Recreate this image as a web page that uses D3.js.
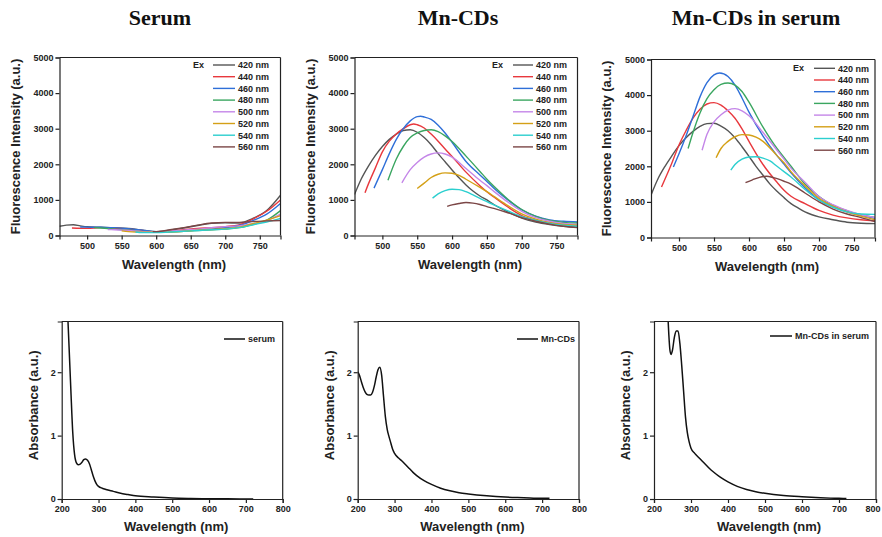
<!DOCTYPE html>
<html>
<head>
<meta charset="utf-8">
<script src="https://cdn.jsdelivr.net/npm/d3@7"></script>
<style>
  body { margin: 0; background: #fff; }
  svg { display: block; }
  .tick text { font-family: Arial, "Liberation Sans", sans-serif; font-weight: bold; font-size: 9px; fill: #222; }
  .axis path, .axis line { stroke: #222; stroke-width: 1.2px; }
  .title { font-family: "Times New Roman", "Liberation Serif", serif; font-weight: bold; font-size: 22px; fill: #111; }
  .axtitle { font-family: Arial, "Liberation Sans", sans-serif; font-weight: bold; font-size: 13px; fill: #222; }
  .leg { font-family: Arial, "Liberation Sans", sans-serif; font-weight: bold; font-size: 9px; fill: #222; }
</style>
</head>
<body>
<div class="chart"></div>
<script>
// excitation wavelengths (legend)
var exLabels = ["420 nm", "440 nm", "460 nm", "480 nm", "500 nm", "520 nm", "540 nm", "560 nm"];
var exColors = ["#555555", "#e8383d", "#2f6fd8", "#3aa660", "#c486e8", "#d4a017", "#2ccfcf", "#7b4646"];

var panelTitles = ["Serum", "Mn-CDs", "Mn-CDs in serum"];
var absLegend = ["serum", "Mn-CDs", "Mn-CDs in serum"];

var flTicksX = [500, 550, 600, 650, 700, 750];
var flTicksY = [0, 1000, 2000, 3000, 4000, 5000];
var absTicksX = [200, 300, 400, 500, 600, 700, 800];
var absTicksY = [0, 1, 2];

// emission spectra, [wavelength nm, intensity a.u.] per excitation
var serumFl = [
  [[460,260],[470,290],[480,300],[490,270],[500,245],[520,230],[540,215],[560,195],[580,150],[600,110],[620,150],[640,210],[660,280],[680,340],[700,355],[720,350],[740,480],[760,700],[780,1130]],
  [[478,210],[500,200],[520,220],[540,210],[560,180],[580,140],[600,100],[620,120],[640,160],[660,200],[680,220],[700,250],[720,300],[740,460],[760,680],[780,1000]],
  [[490,240],[500,235],[520,230],[540,220],[560,190],[580,150],[600,110],[620,110],[640,130],[660,150],[680,180],[700,220],[720,280],[740,420],[760,600],[780,900]],
  [[510,220],[520,210],[540,180],[560,150],[580,110],[600,90],[620,100],[640,120],[660,140],[680,160],[700,180],[720,220],[740,310],[760,430],[780,700]],
  [[530,170],[540,160],[560,140],[580,110],[600,100],[620,120],[640,150],[660,180],[680,220],[700,250],[720,270],[740,330],[760,420],[780,600]],
  [[550,130],[560,110],[580,90],[600,90],[620,100],[640,120],[660,150],[680,170],[700,190],[720,230],[740,330],[760,430],[780,560]],
  [[570,100],[580,80],[600,80],[620,100],[640,120],[660,140],[680,160],[700,180],[720,220],[740,300],[760,380],[780,480]],
  [[595,110],[600,110],[620,160],[640,220],[660,290],[680,350],[700,370],[720,370],[740,390],[760,410],[780,420]]
];

var mnCDsFl = [
  [[460,1150],[470,1600],[480,1950],[490,2250],[500,2500],[510,2700],[520,2850],[530,2950],[540,2970],[550,2900],[560,2750],[570,2550],[580,2300],[590,2070],[600,1840],[610,1620],[620,1420],[630,1250],[640,1110],[650,1000],[660,870],[670,760],[680,660],[690,570],[700,490],[720,380],[740,310],[760,260],[780,230]],
  [[475,1200],[480,1450],[490,1900],[500,2350],[510,2650],[520,2850],[530,3000],[540,3110],[545,3130],[550,3110],[560,3020],[570,2850],[580,2650],[590,2430],[600,2220],[620,1780],[640,1400],[650,1230],[660,1080],[680,800],[700,560],[720,430],[740,360],[760,320],[780,290]],
  [[488,1330],[500,1850],[510,2300],[520,2700],[530,3000],[540,3220],[550,3340],[555,3350],[560,3330],[570,3260],[580,3100],[590,2880],[600,2620],[620,2080],[640,1700],[650,1520],[660,1330],[680,1000],[700,720],[720,540],[740,440],[760,400],[780,380]],
  [[508,1550],[520,2150],[530,2500],[540,2750],[550,2880],[560,2950],[570,2970],[580,2920],[590,2800],[600,2640],[620,2230],[640,1800],[650,1580],[660,1380],[680,1020],[700,730],[720,540],[740,420],[760,370],[780,350]],
  [[528,1480],[540,1850],[550,2050],[560,2200],[570,2290],[580,2320],[590,2290],[600,2200],[620,1880],[640,1550],[650,1400],[660,1240],[680,940],[700,680],[720,500],[740,400],[760,340],[780,310]],
  [[550,1320],[560,1470],[570,1630],[580,1720],[590,1760],[600,1750],[610,1690],[620,1580],[640,1350],[650,1230],[660,1100],[680,840],[700,610],[720,460],[740,360],[760,310],[780,290]],
  [[572,1050],[580,1170],[590,1260],[600,1300],[610,1290],[620,1230],[630,1140],[640,1040],[650,950],[660,860],[680,690],[700,530],[720,420],[740,340],[760,290],[780,260]],
  [[593,820],[600,860],[610,900],[620,925],[630,910],[640,870],[650,810],[660,760],[680,640],[700,500],[720,400],[740,320],[760,260],[780,220]]
];

var mnSerumFl = [
  [[460,1190],[470,1650],[480,2000],[490,2300],[500,2580],[510,2800],[520,2980],[530,3120],[540,3200],[550,3210],[560,3130],[570,3000],[580,2800],[590,2550],[600,2280],[610,2000],[620,1750],[630,1500],[640,1300],[650,1120],[660,950],[670,830],[680,720],[690,640],[700,580],[720,500],[740,430],[760,400],[780,390]],
  [[475,1420],[490,2100],[500,2600],[510,3000],[520,3350],[530,3600],[540,3750],[550,3790],[560,3720],[570,3560],[580,3350],[590,3050],[600,2700],[620,2050],[640,1550],[650,1330],[660,1160],[680,950],[700,760],[720,630],[740,550],[760,500],[780,470]],
  [[492,1980],[500,2350],[510,2850],[520,3400],[530,3950],[540,4350],[550,4570],[558,4620],[570,4520],[580,4280],[590,3920],[600,3520],[620,2850],[640,2300],[650,2060],[660,1820],[680,1400],[700,1060],[720,860],[740,720],[760,620],[780,540]],
  [[513,2500],[520,2950],[530,3500],[540,3900],[550,4150],[560,4300],[570,4340],[580,4280],[590,4100],[600,3800],[620,3100],[640,2500],[650,2250],[660,2000],[680,1500],[700,1150],[720,900],[740,750],[760,640],[780,560]],
  [[533,2450],[540,2900],[550,3250],[560,3450],[570,3580],[580,3620],[590,3560],[600,3420],[620,2950],[640,2450],[650,2200],[660,1950],[680,1550],[700,1150],[720,920],[740,760],[760,640],[780,560]],
  [[553,2240],[560,2500],[570,2700],[580,2830],[590,2890],[600,2880],[610,2820],[620,2700],[640,2300],[650,2100],[660,1850],[680,1450],[700,1100],[720,880],[740,720],[760,600],[780,500]],
  [[574,1890],[580,2050],[590,2200],[600,2260],[610,2270],[620,2230],[630,2150],[640,2000],[650,1850],[660,1700],[680,1350],[700,1050],[720,850],[740,720],[760,660],[780,650]],
  [[595,1540],[605,1620],[615,1690],[625,1720],[635,1680],[650,1580],[660,1500],[680,1250],[700,1000],[720,800],[740,660],[760,560],[780,450]]
];

// UV-vis absorbance, [wavelength nm, absorbance a.u.]
var serumAbs = [[216,2.95],[220,2.4],[225,1.7],[230,1.05],[235,0.7],[240,0.57],[245,0.54],[250,0.55],[255,0.58],[260,0.62],[265,0.63],[270,0.61],[275,0.56],[280,0.47],[285,0.37],[290,0.29],[295,0.23],[300,0.2],[310,0.17],[320,0.15],[340,0.12],[360,0.09],[380,0.07],[400,0.05],[450,0.03],[500,0.015],[550,0.008],[600,0.004],[650,0.002],[720,0.001]];
var mnCDsAbs = [[200,2.01],[205,1.95],[210,1.85],[215,1.76],[220,1.69],[225,1.65],[230,1.64],[235,1.64],[240,1.68],[245,1.78],[250,1.92],[255,2.04],[260,2.08],[265,1.95],[270,1.62],[275,1.3],[280,1.1],[285,0.98],[290,0.88],[295,0.78],[300,0.72],[310,0.65],[320,0.6],[330,0.54],[340,0.48],[350,0.42],[360,0.37],[380,0.29],[400,0.23],[425,0.17],[450,0.13],[475,0.1],[500,0.08],[550,0.05],[600,0.03],[650,0.02],[700,0.01],[720,0.01]];
var mnSerumAbs = [[237,2.95],[240,2.6],[243,2.35],[246,2.28],[250,2.35],[255,2.55],[260,2.65],[265,2.65],[270,2.45],[275,2.1],[280,1.7],[285,1.3],[290,1.05],[295,0.9],[300,0.8],[310,0.72],[320,0.66],[330,0.6],[340,0.54],[350,0.48],[360,0.43],[380,0.34],[400,0.27],[425,0.2],[450,0.15],[475,0.115],[500,0.09],[550,0.055],[600,0.035],[650,0.02],[700,0.01],[720,0.008]];

var svg = d3.select(".chart").append("svg")
  .attr("width", 882)
  .attr("height", 537);

var clipId = 0;

function frame(g, box, x, y, ticksX, ticksY, fmtY){
  var xa = g.append("g").attr("class", "axis")
    .attr("transform", "translate(0," + box.b + ")")
    .call(d3.axisBottom(x).tickValues(ticksX).tickSizeOuter(0).tickSize(4).tickPadding(3));
  // last label of the right-most panel would run off the page
  if(box.r > 870){
    xa.selectAll(".tick:last-of-type text")
      .attr("text-anchor", "end")
      .attr("x", 880 - box.r);
  }
  g.append("g").attr("class", "axis")
    .attr("transform", "translate(" + box.l + ",0)")
    .call(d3.axisLeft(y).tickValues(ticksY).tickSizeOuter(0).tickSize(4).tickPadding(2).tickFormat(fmtY));
  g.append("line").attr("x1", box.l).attr("x2", box.r).attr("y1", box.t).attr("y2", box.t)
    .style("stroke", "#222").style("stroke-width", "1.2px");
  g.append("line").attr("x1", box.r).attr("x2", box.r).attr("y1", box.t).attr("y2", box.b)
    .style("stroke", "#222").style("stroke-width", "1.2px");
}

function clip(box){
  clipId++;
  svg.append("clipPath").attr("id", "c" + clipId).append("rect")
    .attr("x", box.l).attr("y", box.t).attr("width", box.r - box.l).attr("height", box.b - box.t);
  return "url(#c" + clipId + ")";
}

function flPanel(box, series, title, leg){
  var g = svg.append("g");
  var x = d3.scaleLinear().domain([460, 780]).range([box.l, box.r]);
  var y = d3.scaleLinear().domain([0, 5000]).range([box.b, box.t]);

  var line = d3.line()
    .x(function(d){ return x(d[0]); })
    .y(function(d){ return y(d[1]); })
    .curve(d3.curveMonotoneX);

  var cp = clip(box);
  g.append("g").attr("clip-path", cp).selectAll("path")
    .data(series).enter().append("path")
    .attr("d", line)
    .style("fill", "none")
    .style("stroke", function(d, i){ return exColors[i]; })
    .style("stroke-width", "1.4px");

  frame(g, box, x, y, flTicksX, flTicksY, d3.format("d"));

  // legend
  g.append("text").attr("class", "leg").attr("x", leg.ex).attr("y", leg.y + 3).text("Ex");
  var rows = g.selectAll(".row").data(exLabels).enter().append("g")
    .attr("transform", function(d, i){ return "translate(0," + (leg.y + i * 11.7) + ")"; });
  rows.append("line").attr("x1", leg.x1).attr("x2", leg.x2).attr("y1", 0).attr("y2", 0)
    .style("stroke", function(d, i){ return exColors[i]; }).style("stroke-width", "1.4px");
  rows.append("text").attr("class", "leg").attr("x", leg.x2 + 3).attr("y", 3.3).text(function(d){ return d; });

  g.append("text").attr("class", "title").attr("x", title.x).attr("y", 25)
    .attr("text-anchor", "middle").text(title.text);
  g.append("text").attr("class", "axtitle").attr("x", (box.l + box.r) / 2 + 4).attr("y", box.b + 33)
    .attr("text-anchor", "middle").text("Wavelength (nm)");
  g.append("text").attr("class", "axtitle")
    .attr("transform", "translate(" + (box.l - 40) + "," + ((box.t + box.b) / 2) + ") rotate(-90)")
    .attr("text-anchor", "middle").text("Fluorescence Intensity (a.u.)");
}

function absPanel(box, data, legText, leg){
  var g = svg.append("g");
  var x = d3.scaleLinear().domain([200, 800]).range([box.l, box.r]);
  var y = d3.scaleLinear().domain([0, 2.8]).range([box.b, box.t]);

  var line = d3.line()
    .x(function(d){ return x(d[0]); })
    .y(function(d){ return y(d[1]); })
    .curve(d3.curveMonotoneX);

  var cp = clip(box);
  g.append("path").datum(data).attr("clip-path", cp)
    .attr("d", line)
    .style("fill", "none").style("stroke", "#111").style("stroke-width", "1.5px");

  frame(g, box, x, y, absTicksX, absTicksY, d3.format("d"));

  g.append("line").attr("x1", leg.x1).attr("x2", leg.x2).attr("y1", leg.y).attr("y2", leg.y)
    .style("stroke", "#111").style("stroke-width", "1.5px");
  g.append("text").attr("class", "leg").attr("x", leg.x2 + 3).attr("y", leg.y + 3.3).text(legText);

  g.append("text").attr("class", "axtitle").attr("x", (box.l + box.r) / 2 + 4).attr("y", box.b + 32)
    .attr("text-anchor", "middle").text("Wavelength (nm)");
  g.append("text").attr("class", "axtitle")
    .attr("transform", "translate(" + (box.l - 24) + "," + ((box.t + box.b) / 2 - 5) + ") rotate(-90)")
    .attr("text-anchor", "middle").text("Absorbance (a.u.)");
}

flPanel({l: 59.5, r: 280.5, t: 57.5, b: 235.5}, serumFl, {x: 160, text: panelTitles[0]}, {ex: 193, x1: 213, x2: 235, y: 65});
flPanel({l: 354.5, r: 577.5, t: 57.5, b: 235.5}, mnCDsFl, {x: 458, text: panelTitles[1]}, {ex: 492, x1: 513, x2: 533, y: 65});
flPanel({l: 651, r: 875, t: 59.5, b: 237.5}, mnSerumFl, {x: 756, text: panelTitles[2]}, {ex: 793, x1: 814, x2: 835, y: 68.3});

absPanel({l: 61.7, r: 282.7, t: 321.5, b: 499}, serumAbs, absLegend[0], {x1: 224, x2: 245, y: 339});
absPanel({l: 357.7, r: 579, t: 321.5, b: 499}, mnCDsAbs, absLegend[1], {x1: 517, x2: 538, y: 339});
absPanel({l: 654, r: 876, t: 321.5, b: 499}, mnSerumAbs, absLegend[2], {x1: 770, x2: 792, y: 336});
</script>
</body>
</html>
